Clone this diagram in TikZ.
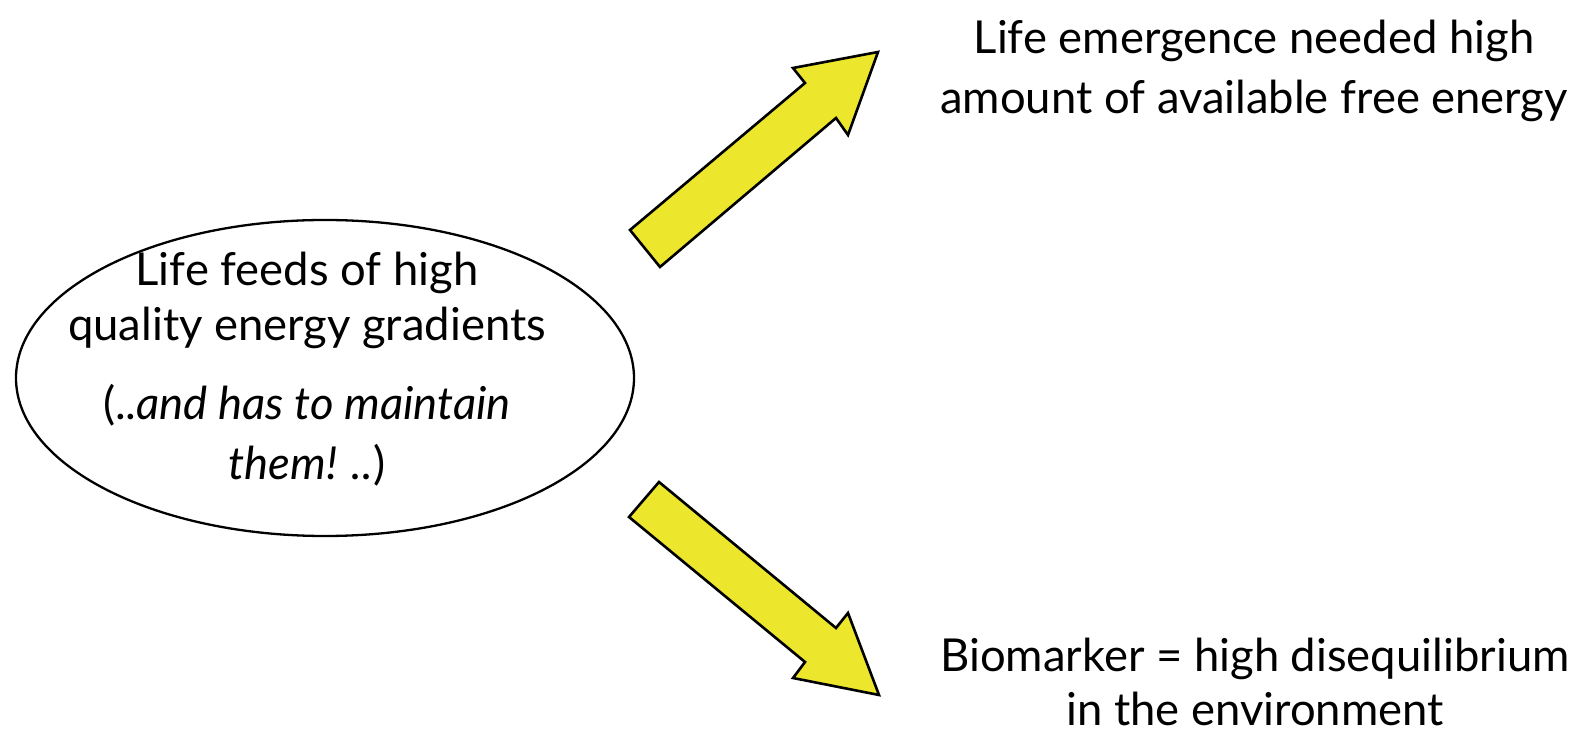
\documentclass[tikz,border=0pt]{standalone}
\usepackage{fontspec}
\setmainfont{Lato}
\usetikzlibrary{shapes.geometric}
\definecolor{arrowyellow}{RGB}{236,230,45}
\begin{document}
\begin{tikzpicture}[x=0.5pt,y=-0.5pt,
  bigarrow/.style={fill=arrowyellow,draw=black,line width=1.3pt,line join=miter},
  bubble/.style={draw=black,line width=1.15pt,ellipse,inner sep=0pt,minimum width=309pt,minimum height=158pt},
  txt/.style={font=\fontsize{22.7}{30}\selectfont,align=center,inner sep=0pt}]
\useasboundingbox (0,0) rectangle (1586,731);
\node[bubble] (src) at (325,378) {};
\node[txt,font=\fontsize{22.7}{27.5}\selectfont] (srctext) at (307,369)
  {Life feeds of high\\quality energy gradients\\[12pt]
   (..\textit{and has to maintain}\\[2.5pt]\textit{them! ..})};
\node[txt] (up) at (1254,71) {Life emergence needed high\\amount of available free energy};
\node[txt,font=\fontsize{22.7}{27}\selectfont] (down) at (1255,682) {Biomarker = high disequilibrium\\in the environment};
\draw[bigarrow] (630,230) -- (805,83) -- (793,68) -- (878,52) -- (848,135) -- (836,118) -- (660,267) -- cycle;
\draw[bigarrow] (629,517) -- (805,662) -- (793,678) -- (879,695) -- (848,613) -- (836,628) -- (659,482) -- cycle;
\end{tikzpicture}
\end{document}
